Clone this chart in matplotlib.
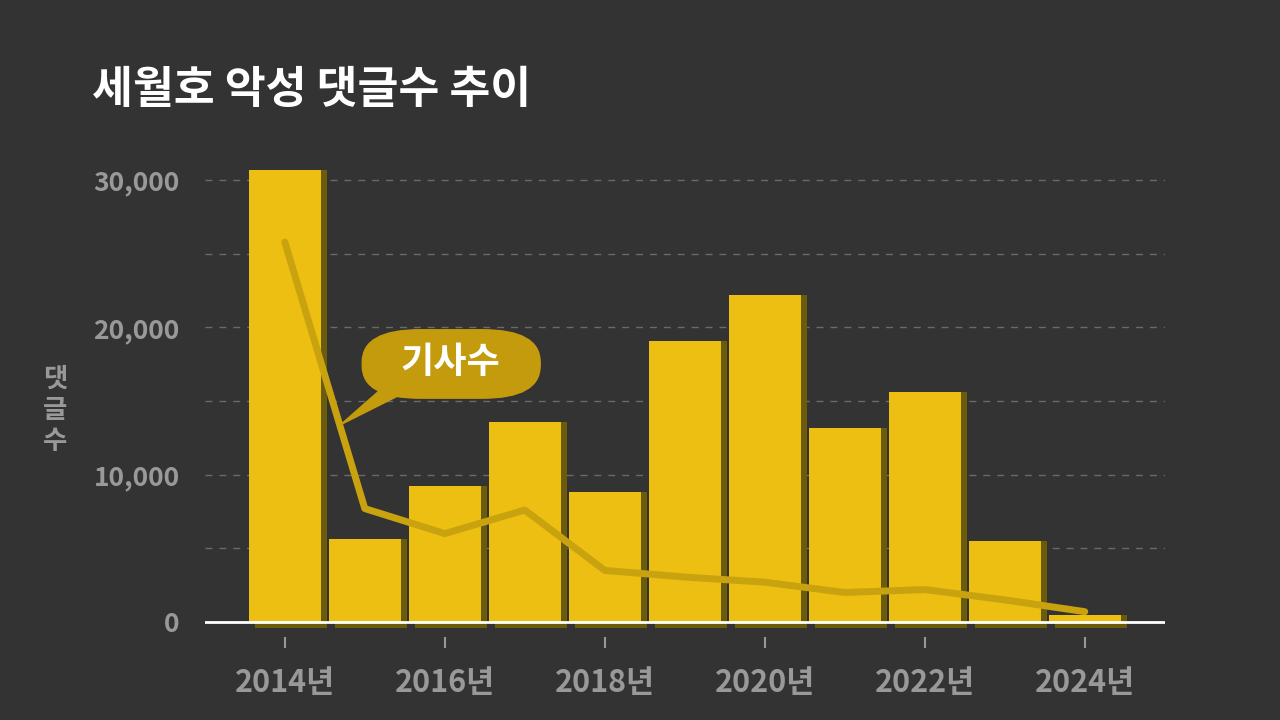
import matplotlib.pyplot as plt
from matplotlib.patches import FancyBboxPatch, Polygon

plt.rcParams['font.family'] = ['Noto Sans CJK KR', 'DejaVu Sans']

years = [2014, 2015, 2016, 2017, 2018, 2019, 2020, 2021, 2022, 2023, 2024]
comments = [30700, 5600, 9200, 13600, 8800, 19100, 22200, 13200, 15600, 5500, 500]
articles = [25800, 7700, 6000, 7600, 3500, 3050, 2700, 2000, 2200, 1500, 700]
tick_years = [2014, 2016, 2018, 2020, 2022, 2024]

bg = '#333333'
fig = plt.figure(figsize=(12.8, 7.2), dpi=100, facecolor=bg)
ax = fig.add_axes([0.16, 0.1157, 0.75, 0.675], facecolor=bg)
ax.set_xlim(2013, 2025)
ax.set_ylim(-1000, 32000)

for y in [5000, 10000, 15000, 20000, 25000, 30000]:
    ax.axhline(y, color='#6a6a6a', lw=1, ls=(0, (5, 5)), zorder=0)

# shadows
ax.bar([x + 0.08 for x in years], [c + 400 for c in comments], bottom=-400,
       width=0.9, color='#6b5c0c', zorder=1)
ax.bar(years, comments, width=0.9, color='#ecbf12', zorder=2)
ax.axhline(0, color='white', lw=2, zorder=3)
ax.plot(years, articles, color='#c9a20f', lw=5, zorder=4, solid_capstyle='round')

# bubble
fig.add_artist(FancyBboxPatch((0.283, 0.447), 0.139, 0.095,
                              boxstyle='round,pad=0,rounding_size=0.045',
                              transform=fig.transFigure, color='#c49b0d', zorder=5))
fig.add_artist(Polygon([[0.298, 0.46], [0.322, 0.46], [0.266, 0.41]], closed=True,
                       transform=fig.transFigure, color='#c49b0d', zorder=5))
fig.text(0.352, 0.496, '기사수', color='white', fontsize=26, fontweight='black',
         ha='center', va='center', zorder=6)

ax.set_xticks(tick_years)
ax.set_xticklabels([f'{y}년' for y in tick_years])
ax.set_yticks([0, 10000, 20000, 30000])
ax.set_yticklabels(['0', '10,000', '20,000', '30,000'])
ax.tick_params(axis='x', colors='#999999', labelsize=22, length=8, width=1.5, pad=14)
ax.tick_params(axis='y', colors='#999999', labelsize=19, length=0, pad=18)
for t in ax.get_xticklabels() + ax.get_yticklabels():
    t.set_fontweight('black')
for s in ax.spines.values():
    s.set_visible(False)

fig.text(0.043, 0.43, '댓\n글\n수', color='#999999', fontsize=19, fontweight='black',
         ha='center', va='center', linespacing=1.2)
fig.text(0.072, 0.875, '세월호 악성 댓글수 추이', color='white', fontsize=32,
         fontweight='black', ha='left', va='center')

fig.savefig('out.png', dpi=100, facecolor=bg)
